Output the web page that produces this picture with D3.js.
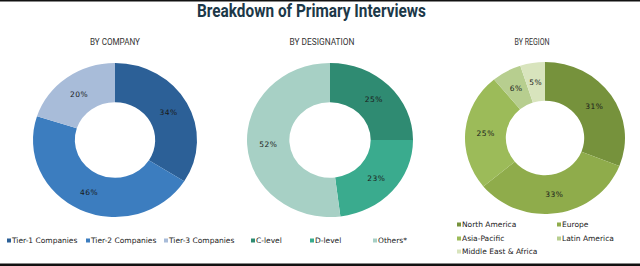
<!DOCTYPE html>
<html>
<head>
<meta charset="utf-8">
<script src="https://cdn.jsdelivr.net/npm/d3@7"></script>
<style>
  body { margin: 0; background: #fff; }
  svg text { font-family: "DejaVu Sans", Verdana, sans-serif; }
</style>
</head>
<body>
<div id="chart"></div>
<script>
// data
var companyLabels = ['Tier-1 Companies', 'Tier-2 Companies', 'Tier-3 Companies'];
var companyValues = [34, 46, 20];
var designationLabels = ['C-level', 'D-level', 'Others*'];
var designationValues = [25, 23, 52];
var regionLabels = ['North America', 'Europe', 'Asia-Pacific', 'Latin America', 'Middle East & Africa'];
var regionValues = [31, 33, 25, 6, 5];

var width = 640,
    height = 266;

var svg = d3
    .select('#chart')
    .append('svg')
    .attr('width', width)
    .attr('height', height);

// frame lines top and bottom
svg.append('rect').attr('x', 0).attr('y', 0).attr('width', width).attr('height', 1.5).attr('fill', '#111');
svg.append('rect').attr('x', 0).attr('y', 263.5).attr('width', width).attr('height', 2.5).attr('fill', '#111');

// condensed look: squeeze the bold title to the reference width
svg.append('text')
    .attr('x', 197)
    .attr('y', 17)
    .attr('textLength', 229)
    .attr('lengthAdjust', 'spacingAndGlyphs')
    .style('font-family', 'Roboto, sans-serif')
    .style('font-weight', 'bold')
    .style('font-size', '19px')
    .style('fill', '#1c3848')
    .text('Breakdown of Primary Interviews');

var charts = [
    { title: 'BY COMPANY', tx: 115, tw: 50, labels: companyLabels, values: companyValues,
      colors: ['#2c6097', '#3c7dbf', '#a8bcd9'], cx: 115, cy: 140, rx: 82, ry: 77 },
    { title: 'BY DESIGNATION', tx: 322, tw: 65, labels: designationLabels, values: designationValues,
      colors: ['#2f8b72', '#3aab8e', '#a7d0c5'], cx: 330, cy: 140, rx: 83, ry: 77 },
    { title: 'BY REGION', tx: 532, tw: 35, labels: regionLabels, values: regionValues,
      colors: ['#76923c', '#8fac4b', '#9cbb59', '#b7ce8f', '#d8e4bd'], cx: 545, cy: 138, rx: 80, ry: 76 }
];

var R = 80;
var pie = d3.pie().sort(null).value(function (d) { return d; });
var arc = d3.arc().outerRadius(R).innerRadius(R * 0.49);

charts.forEach(function (c) {
    svg.append('text')
        .attr('x', c.tx - c.tw / 2)
        .attr('y', 45)
        .attr('textLength', c.tw)
        .attr('lengthAdjust', 'spacingAndGlyphs')
        .style('font-family', 'Roboto, sans-serif')
        .style('font-size', '8.5px')
        .style('fill', '#333')
        .text(c.title);

    var sx = c.rx / R, sy = c.ry / R;
    var g = svg.append('g')
        .attr('transform', 'translate(' + c.cx + ',' + c.cy + ')');

    var arcs = pie(c.values);
    g.append('g')
        .attr('transform', 'scale(' + sx + ',' + sy + ')')
        .selectAll('path')
        .data(arcs)
        .enter()
        .append('path')
        .attr('d', arc)
        .attr('fill', function (d, i) { return c.colors[i]; });

    g.selectAll('text.pct')
        .data(arcs)
        .enter()
        .append('text')
        .attr('class', 'pct')
        .attr('x', function (d) { return arc.centroid(d)[0] * sx; })
        .attr('y', function (d) { return arc.centroid(d)[1] * sy + 3; })
        .attr('text-anchor', 'middle')
        .style('font-size', '7.5px')
        .style('letter-spacing', '0.5px')
        .style('fill', '#1a1a1a')
        .text(function (d) { return d.data + '%'; });
});

// legends
var legendPos = [
    [[7, 243], [86, 243], [164, 243]],
    [[251, 243], [310, 243], [373, 243]],
    [[457, 227], [557, 227], [457, 241], [557, 241], [457, 254]]
];

charts.forEach(function (c, ci) {
    var lg = svg.append('g');
    c.labels.forEach(function (lab, i) {
        var p = legendPos[ci][i];
        lg.append('rect')
            .attr('x', p[0])
            .attr('y', p[1] - 4.5)
            .attr('width', 4)
            .attr('height', 4)
            .attr('fill', c.colors[i]);
        lg.append('text')
            .attr('x', p[0] + 5)
            .attr('y', p[1])
            .style('font-size', '7.5px')
            .style('fill', '#1a1a1a')
            .text(lab);
    });
});
</script>
</body>
</html>
